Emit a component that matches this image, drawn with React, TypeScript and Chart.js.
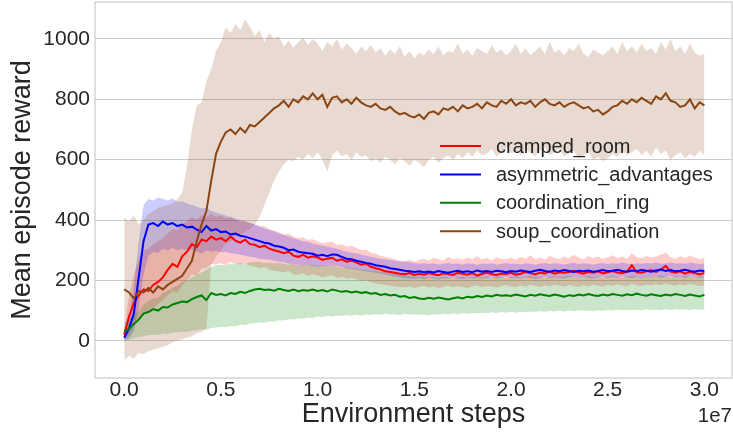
import React, { useEffect, useRef } from "react";
import { Chart, registerables } from "chart.js";

Chart.register(...registerables);

// Environment steps, in millions
const STEPS_M = [
  0, 0.25, 0.5, 0.75, 1, 1.25, 1.5, 1.75, 2, 2.25,
  2.5, 2.75, 3, 3.25, 3.5, 3.75, 4, 4.25, 4.5, 4.75,
  5, 5.25, 5.5, 5.75, 6, 6.25, 6.5, 6.75, 7, 7.25,
  7.5, 7.75, 8, 8.25, 8.5, 8.75, 9, 9.25, 9.5, 9.75,
  10, 10.25, 10.5, 10.75, 11, 11.25, 11.5, 11.75, 12, 12.25,
  12.5, 12.75, 13, 13.25, 13.5, 13.75, 14, 14.25, 14.5, 14.75,
  15, 15.25, 15.5, 15.75, 16, 16.25, 16.5, 16.75, 17, 17.25,
  17.5, 17.75, 18, 18.25, 18.5, 18.75, 19, 19.25, 19.5, 19.75,
  20, 20.25, 20.5, 20.75, 21, 21.25, 21.5, 21.75, 22, 22.25,
  22.5, 22.75, 23, 23.25, 23.5, 23.75, 24, 24.25, 24.5, 24.75,
  25, 25.25, 25.5, 25.75, 26, 26.25, 26.5, 26.75, 27, 27.25,
  27.5, 27.75, 28, 28.25, 28.5, 28.75, 29, 29.25, 29.5, 29.75,
  30,
];

const X_TICKS = [0, 5e6, 1e7, 1.5e7, 2e7, 2.5e7, 3e7];
const Y_TICKS = [0, 200, 400, 600, 800, 1000];

const SERIES_NAMES = ["cramped_room", "asymmetric_advantages", "coordination_ring", "soup_coordination"];

// cramped_room
const RED_MEAN = [
  20, 80, 125, 150, 170, 165, 185, 195, 210, 235,
  255, 245, 280, 295, 320, 310, 335, 330, 345, 335,
  340, 330, 345, 332, 325, 335, 320, 318, 310, 315,
  305, 300, 296, 290, 295, 282, 278, 285, 275, 280,
  276, 268, 272, 275, 265, 270, 262, 266, 260, 252,
  256, 245, 240, 236, 230, 228, 225, 222, 220, 224,
  218, 222, 219, 224, 220, 217, 223, 221, 218, 225,
  222, 219, 224, 216, 221, 226, 220, 218, 223, 221,
  225, 219, 222, 228, 224, 220, 226, 223, 229, 222,
  227, 225, 228, 232, 226, 222, 228, 225, 230, 223,
  227, 231, 226, 224, 229, 250, 227, 225, 230, 234,
  228, 236, 248, 229, 225, 230, 222, 228, 224, 220,
  225,
];
const RED_HI = [
  40, 150, 220, 270, 300, 305, 320, 330, 340, 355,
  370, 365, 385, 395, 410, 400, 415, 410, 420, 410,
  415, 405, 410, 400, 395, 398, 390, 385, 378, 380,
  370, 365, 360, 352, 355, 345, 340, 342, 335, 336,
  330, 322, 326, 328, 318, 320, 312, 315, 308, 300,
  302, 292, 288, 282, 278, 274, 270, 266, 264, 268,
  262, 268, 272, 265, 275, 270, 266, 278, 270, 273,
  268, 276, 271, 280, 269, 274, 266, 277, 272, 270,
  275, 268, 278, 272, 283, 270, 276, 269, 281, 274,
  271, 279, 273, 285, 276, 270, 280, 274, 278, 272,
  276, 283, 274, 279, 272, 290, 277, 273, 281, 276,
  279, 285, 292, 277, 272, 280, 274, 282, 276, 271,
  275,
];
const RED_LO = [
  5, 20, 50, 70, 90, 95, 110, 120, 135, 150,
  165, 160, 185, 200, 220, 215, 240, 240, 255, 252,
  258, 250, 262, 255, 252, 258, 248, 246, 240, 244,
  236, 232, 230, 226, 230, 220, 218, 224, 215, 220,
  216, 210, 214, 218, 208, 212, 205, 208, 204, 198,
  202, 194, 190, 188, 184, 182, 180, 178, 176, 180,
  175, 178, 182, 176, 180, 174, 179, 183, 177, 181,
  178, 175, 180, 184, 177, 182, 179, 176, 181, 185,
  180, 177, 183, 179, 185, 181, 178, 184, 180, 186,
  182, 179, 185, 181, 178, 184, 180, 186, 182, 179,
  185, 181, 187, 183, 180, 190, 184, 181, 186, 183,
  188, 184, 190, 185, 182, 187, 183, 189, 185, 181,
  184,
];

// asymmetric_advantages
const BLUE_MEAN = [
  10, 40, 90, 210, 330, 385, 390, 380, 395, 385,
  390, 380, 385, 375, 378, 368, 360, 380, 365, 370,
  360, 362, 352, 355, 348, 345, 340, 335, 330, 325,
  322, 315, 312, 308, 300, 302, 295, 292, 290, 288,
  282, 285, 280, 286, 285, 278, 272, 270, 265, 262,
  258, 255, 250, 248, 245, 240, 238, 235, 232, 230,
  228, 230, 227, 229, 226, 231, 228, 225, 229, 232,
  228, 230, 227, 233, 229, 231, 228, 232, 230, 227,
  231, 229, 233, 230, 228, 232, 235, 231, 229, 233,
  230, 234, 231, 228, 232, 230, 233, 229, 231, 234,
  230, 232, 235, 231, 229, 233, 230, 234, 232, 229,
  233, 236, 231, 234, 230, 232, 235, 231, 229, 233,
  231,
];
const BLUE_HI = [
  20, 80, 180, 330, 450, 470, 465, 475, 470, 465,
  472, 460, 462, 455, 450, 445, 438, 440, 430, 425,
  420, 415, 410, 405, 400, 395, 390, 385, 380, 372,
  368, 362, 355, 350, 345, 340, 335, 330, 328, 322,
  318, 315, 312, 308, 305, 300, 296, 292, 290, 285,
  282, 278, 275, 272, 270, 268, 265, 262, 262, 260,
  258, 255, 257, 254, 256, 253, 255, 258, 254, 256,
  253, 257, 255, 252, 256, 254, 257, 253, 255, 258,
  254, 256, 253, 257, 255, 252, 256, 258, 254, 257,
  255, 253, 256, 258, 254, 257, 255, 252, 256, 258,
  254, 257, 255, 259, 256, 253, 257, 255, 258, 256,
  259, 255, 257, 260, 256, 258, 255, 259, 257, 254,
  256,
];
const BLUE_LO = [
  0, 10, 30, 110, 220, 280, 295, 290, 305, 300,
  308, 300, 305, 298, 302, 295, 290, 300, 295, 298,
  292, 295, 290, 288, 285, 282, 278, 276, 272, 270,
  268, 265, 262, 260, 255, 255, 252, 250, 250, 248,
  245, 248, 246, 250, 248, 244, 240, 238, 236, 233,
  230, 228, 225, 222, 220, 215, 212, 210, 207, 206,
  205, 207, 204, 208, 206, 203, 207, 205, 209, 206,
  204, 208, 206, 209, 205, 207, 210, 206, 208, 211,
  207, 209, 206, 210, 208, 205, 209, 211, 207, 210,
  208, 206, 210, 212, 208, 211, 209, 206, 210, 212,
  208, 211, 209, 213, 210, 207, 211, 209, 212, 210,
  213, 209, 211, 214, 210, 212, 209, 213, 211, 208,
  210,
];

// coordination_ring
const GREEN_MEAN = [
  30, 40, 55, 70, 90, 95, 105, 100, 112, 110,
  120, 125, 130, 128, 138, 145, 150, 135, 158, 152,
  155, 150, 158, 155, 162, 158, 165, 170, 172, 168,
  170, 166, 172, 168, 165, 170, 164, 168, 166, 170,
  165, 168, 163, 170, 166, 162, 165, 160, 163, 158,
  161, 156, 158, 152, 155, 150, 152, 146, 148, 142,
  145, 140, 138, 142, 139, 143, 140, 137, 141, 144,
  140, 146, 143, 148, 145, 150, 147, 152, 149, 151,
  148, 153, 150, 147, 152, 149, 154, 151, 148, 153,
  150, 146, 151, 148, 153, 150, 155, 151, 148, 153,
  150, 155, 152, 149, 154, 151, 156, 152, 149, 154,
  151, 148, 153, 150, 155, 152, 148, 153, 150, 147,
  152,
];
const GREEN_HI = [
  60, 70, 85, 100, 120, 130, 140, 142, 158, 165,
  175, 182, 195, 200, 210, 218, 226, 235, 245, 250,
  252, 250, 256, 255, 258, 256, 260, 262, 262, 258,
  260, 256, 258, 255, 252, 255, 250, 252, 250, 252,
  248, 250, 246, 250, 246, 242, 244, 240, 240, 236,
  236, 232, 232, 228, 226, 222, 222, 218, 218, 214,
  214, 210, 212, 208, 211, 207, 213, 209, 206, 210,
  212, 208, 211, 214, 209, 212, 208, 213, 210, 207,
  211, 214, 209, 212, 215, 210, 213, 208, 211, 214,
  210, 213, 216, 211, 208, 212, 215, 210, 213, 209,
  212, 215, 211, 209, 213, 216, 212, 210, 214, 211,
  213, 216, 212, 209, 214, 211, 215, 212, 210, 213,
  212,
];
const GREEN_LO = [
  0, 3, 8, 12, 15, 18, 20, 19, 24, 22,
  27, 28, 30, 29, 33, 35, 38, 36, 42, 44,
  46, 45, 49, 48, 53, 52, 56, 58, 61, 60,
  64, 63, 68, 67, 71, 70, 74, 73, 77, 75,
  80, 78, 82, 80, 84, 82, 85, 83, 86, 84,
  87, 85, 88, 86, 89, 87, 88, 85, 89, 86,
  88, 85, 87, 84, 88, 86, 89, 87, 90, 88,
  91, 89, 92, 90, 93, 91, 94, 92, 95, 93,
  95, 93, 96, 94, 97, 95, 98, 96, 99, 97,
  99, 97, 100, 98, 101, 99, 100, 98, 101, 99,
  102, 100, 103, 101, 102, 100, 103, 101, 104, 102,
  103, 101, 104, 102, 105, 103, 104, 102, 105, 103,
  104,
];

// soup_coordination
const BROWN_MEAN = [
  170, 160, 140, 165, 160, 175, 160, 180, 170, 185,
  195, 205, 215, 240, 265, 330, 385, 430, 530, 620,
  660, 690, 700, 685, 705, 690, 715, 710, 725, 740,
  755, 770, 780, 795, 775, 800, 790, 810, 800, 820,
  800, 815, 775, 805, 810, 790, 800, 785, 805, 790,
  780, 775, 785, 770, 765, 775, 760, 750, 755, 745,
  740, 750, 735, 755, 760, 750, 770, 765, 775, 760,
  780, 770, 775, 785, 770, 790, 780, 775, 795, 785,
  800, 780, 790, 785, 795, 775, 790, 800, 785, 780,
  790, 775, 785, 790, 780, 770, 775, 760, 765, 750,
  760, 775, 780, 795, 785, 800, 790, 805, 795, 785,
  810, 800, 820, 795, 790, 775, 780, 800, 770, 790,
  780,
];
const BROWN_HI = [
  410, 395, 415, 385, 400, 420, 430, 440, 445, 450,
  455, 470, 490, 580, 700, 780, 790, 860, 900, 960,
  990, 1040, 1020, 1050, 1030, 1065, 1040, 1010, 1030, 990,
  1020, 1000, 1010, 975, 995, 970, 990, 1005, 980, 1000,
  985, 960, 990, 975, 1000, 965, 985, 970, 950, 975,
  960, 980, 955, 970, 945, 965, 950, 975, 940, 960,
  935, 955, 945, 965, 950, 975, 945, 960, 955, 985,
  950, 965, 945, 970, 960, 950, 980, 955, 965, 945,
  960, 985, 950, 970, 945, 960, 975, 950, 990, 955,
  965, 945, 970, 960, 985, 950, 940, 965, 955, 945,
  960, 975, 950, 990, 960, 975, 955, 985, 960, 970,
  950, 990, 965, 1000, 960, 975, 950, 985, 955, 945,
  950,
];
const BROWN_LO = [
  -65, -50, -60, -40, -45, -35, -30, -25, -20, -15,
  -5, 0, 5, 10, 15, 25, 30, 40, 250, 280,
  300, 320, 330, 345, 350, 360, 370, 385, 410, 450,
  490, 530, 560, 585, 600, 595, 610, 600, 620, 605,
  625, 600, 560, 615, 630, 610, 620, 600, 625, 610,
  615, 595, 605, 590, 610, 600, 585, 605, 595, 580,
  600, 590, 575, 600, 610, 590, 605, 615, 600, 620,
  605, 625, 610, 630, 615, 620, 635, 610, 625, 640,
  620, 630, 615, 635, 625, 610, 630, 640, 615, 625,
  635, 610, 620, 630, 605, 615, 625, 600, 610, 595,
  605, 620, 610, 630, 615, 625, 635, 615, 630, 610,
  640, 620, 630, 600, 615, 625, 605, 620, 610, 630,
  615,
];

const SERIES = [
  { name: SERIES_NAMES[0], mean: RED_MEAN, hi: RED_HI, lo: RED_LO, color: "#ff0000", band: "rgba(255,0,0,0.2)" },
  { name: SERIES_NAMES[1], mean: BLUE_MEAN, hi: BLUE_HI, lo: BLUE_LO, color: "#0000ff", band: "rgba(0,0,255,0.2)" },
  { name: SERIES_NAMES[2], mean: GREEN_MEAN, hi: GREEN_HI, lo: GREEN_LO, color: "#008000", band: "rgba(0,128,0,0.2)" },
  { name: SERIES_NAMES[3], mean: BROWN_MEAN, hi: BROWN_HI, lo: BROWN_LO, color: "#8b4513", band: "rgba(139,69,19,0.2)" },
];

const FONT = '"Liberation Sans", Arial, Helvetica, sans-serif';
const TEXT_COLOR = "#262626";

const toPts = (vals: number[]) => vals.map((v, i) => ({ x: STEPS_M[i] * 1e6, y: v }));

const framePlugin = {
  id: "frameAndLegend",
  afterDatasetsDraw(chart: any) {
    const { ctx, chartArea } = chart;
    ctx.save();
    ctx.strokeStyle = "#cccccc";
    ctx.lineWidth = 1.25;
    ctx.strokeRect(chartArea.left, chartArea.top, chartArea.right - chartArea.left, chartArea.bottom - chartArea.top);
    ctx.restore();
  },
  afterDraw(chart: any) {
    const { ctx, chartArea } = chart;
    ctx.save();
    ctx.font = `20px ${FONT}`;
    ctx.textBaseline = "middle";
    ctx.textAlign = "left";
    const lx = chartArea.left + 345;
    const ly = chartArea.top + 144;
    SERIES.forEach((s, i) => {
      const y = ly + i * 28.4;
      ctx.strokeStyle = s.color;
      ctx.lineWidth = 2;
      ctx.beginPath();
      ctx.moveTo(lx, y);
      ctx.lineTo(lx + 41, y);
      ctx.stroke();
      ctx.fillStyle = TEXT_COLOR;
      ctx.fillText(s.name, lx + 56, y + 1);
    });
    ctx.font = `20.5px ${FONT}`;
    ctx.textAlign = "right";
    ctx.textBaseline = "alphabetic";
    ctx.fillText("1e7", chartArea.right, 422);
    ctx.restore();
  },
};

export default function App() {
  const ref = useRef<HTMLCanvasElement | null>(null);
  useEffect(() => {
    if (!ref.current) return;
    const datasets: any[] = [];
    SERIES.forEach((s, k) => {
      datasets.push({
        label: s.name + "_hi",
        data: toPts(s.hi),
        borderWidth: 0,
        borderColor: "rgba(0,0,0,0)",
        backgroundColor: s.band,
        pointRadius: 0,
        fill: "+1",
        order: 20 - k,
      });
      datasets.push({
        label: s.name + "_lo",
        data: toPts(s.lo),
        borderWidth: 0,
        borderColor: "rgba(0,0,0,0)",
        backgroundColor: "rgba(0,0,0,0)",
        pointRadius: 0,
        fill: false,
        order: 20 - k,
      });
    });
    SERIES.forEach((s, k) => {
      datasets.push({
        label: s.name,
        data: toPts(s.mean),
        borderWidth: 2,
        borderColor: s.color,
        backgroundColor: s.color,
        pointRadius: 0,
        fill: false,
        order: 10 - k,
      });
    });
    const chart = new Chart(ref.current, {
      type: "line",
      data: { datasets },
      options: {
        animation: false,
        responsive: false,
        layout: { padding: { top: 2, right: 1, left: 0, bottom: 0 } },
        plugins: { legend: { display: false }, tooltip: { enabled: false } },
        elements: { line: { tension: 0 } },
        scales: {
          x: {
            type: "linear",
            min: -1.51e6,
            max: 3.1427e7,
            grid: { display: false, drawTicks: false },
            border: { display: false },
            afterBuildTicks: (scale: any) => {
              scale.ticks = X_TICKS.map((v) => ({ value: v }));
            },
            afterFit: (scale: any) => {
              scale.height = 56;
              scale.paddingLeft = 0;
              scale.paddingRight = 0;
            },
            ticks: {
              padding: 0,
              color: TEXT_COLOR,
              font: { family: FONT, size: 21 },
              maxRotation: 0,
              autoSkip: false,
              callback: (v: any) => (Number(v) / 1e7).toFixed(1),
            },
            title: {
              display: true,
              text: "Environment steps",
              color: TEXT_COLOR,
              font: { family: FONT, size: 27 },
              padding: { top: 0, bottom: 3 },
            },
          },
          y: {
            type: "linear",
            min: -123.5,
            max: 1122.5,
            grid: { display: true, drawTicks: false, color: "#cccccc", lineWidth: 1 },
            border: { display: false },
            afterBuildTicks: (scale: any) => {
              scale.ticks = Y_TICKS.map((v) => ({ value: v }));
            },
            afterFit: (scale: any) => {
              scale.width = 95;
              scale.paddingTop = 0;
              scale.paddingBottom = 0;
            },
            ticks: {
              padding: 5,
              color: TEXT_COLOR,
              font: { family: FONT, size: 21 },
              autoSkip: false,
              callback: (v: any) => String(v),
            },
            title: {
              display: true,
              text: "Mean episode reward",
              color: TEXT_COLOR,
              font: { family: FONT, size: 27 },
              padding: { top: 6, bottom: 0 },
            },
          },
        },
      },
      plugins: [framePlugin],
    });
    return () => chart.destroy();
  }, []);
  return (
    <div style={{ position: "absolute", left: 0, top: 0, width: 733, height: 434, background: "#ffffff" }}>
      <canvas ref={ref} width={733} height={434} style={{ display: "block" }} />
    </div>
  );
}
